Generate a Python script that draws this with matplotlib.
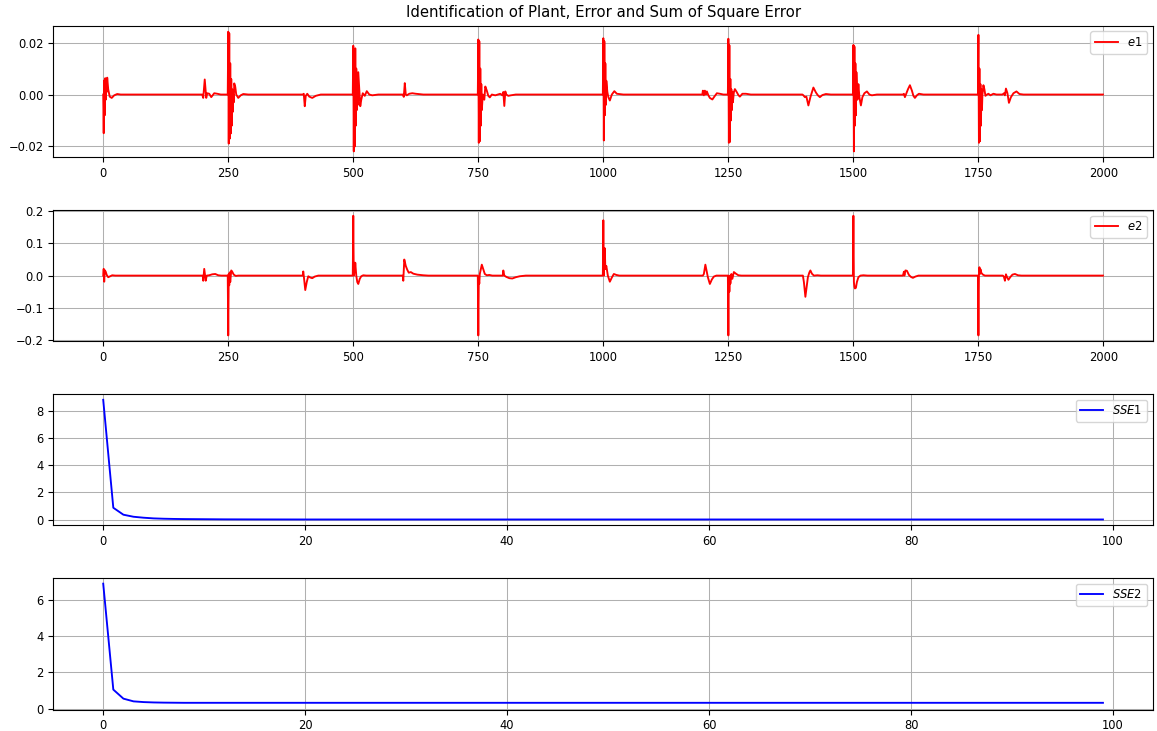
import matplotlib
matplotlib.use("Agg")
import matplotlib.pyplot as plt

plt.rcParams['font.size'] = 8.3
plt.rcParams['axes.titlesize'] = 10.7
plt.rcParams['lines.linewidth'] = 1.35
plt.rcParams['grid.linewidth'] = 0.75

# key points (sample index, error value)
e1_t = [0, 1, 2, 3, 4, 5, 6, 7, 8, 10, 13, 17, 22, 28, 35,
        198, 200, 203, 206, 208, 212, 216, 222, 228, 235,
        249, 250, 251, 252, 253, 254, 255, 256, 257, 258, 259, 260, 261, 262, 264, 266, 270, 275, 280, 290,
        399, 401, 403, 405, 408, 412, 418, 425, 435,
        499, 500, 501, 502, 503, 504, 505, 506, 507, 508, 509, 510, 512, 514, 516, 519, 523, 527, 532, 538, 550,
        599, 601, 603, 605, 607, 612, 618, 625, 640,
        749, 750, 751, 752, 753, 754, 755, 756, 757, 759, 762, 764, 767, 770, 773, 777, 784, 794,
        798, 800, 802, 804, 806, 810, 815, 825,
        999, 1000, 1001, 1002, 1003, 1004, 1005, 1006, 1008, 1010, 1013, 1017, 1022, 1027, 1040,
        1198, 1199, 1201, 1203, 1205, 1207, 1210, 1213, 1218, 1222, 1227, 1233, 1240,
        1249, 1250, 1251, 1252, 1253, 1254, 1255, 1256, 1257, 1258, 1259, 1261, 1263, 1266, 1270, 1273, 1278, 1285, 1295,
        1398, 1400, 1403, 1406, 1410, 1414, 1420, 1425, 1429, 1433, 1438, 1445, 1455,
        1499, 1500, 1501, 1502, 1503, 1504, 1505, 1506, 1508, 1510, 1512, 1515, 1518, 1522, 1527, 1532, 1537, 1547,
        1599, 1601, 1603, 1605, 1609, 1613, 1617, 1620, 1623, 1627, 1631, 1640,
        1749, 1750, 1751, 1752, 1753, 1754, 1755, 1756, 1757, 1758, 1760, 1762, 1764, 1767, 1770, 1774, 1780, 1786,
        1798, 1801, 1803, 1805, 1808, 1811, 1815, 1820, 1826, 1832, 1840,
        1999]
e1_v = [0.0, -0.0149, 0.0055, -0.008, 0.0063, -0.002, 0.0058, 0.001, 0.0065, 0.002, -0.0008, -0.0013, -0.0003, 0.0002, 0.0,
        0.0, -0.0013, 0.0058, -0.0013, 0.0005, 0.0003, -0.001, 0.0005, 0.0003, 0.0,
        0.0, 0.0242, -0.0189, 0.0236, -0.017, 0.012, -0.015, 0.006, -0.012, 0.002, -0.0067, 0.0, -0.003, 0.0043, 0.003, 0.0, -0.0013, -0.0003, 0.0002, 0.0,
        0.0, 0.0003, -0.0045, -0.0005, 0.0003, -0.0008, -0.0013, -0.0005, 0.0,
        0.0, 0.0188, -0.0219, 0.0175, -0.02, 0.0178, -0.012, 0.01, -0.006, 0.004, -0.004, 0.0086, 0.002, -0.0045, -0.002, 0.0005, -0.0005, 0.0013, 0.0, -0.0003, 0.0,
        0.0, -0.0009, 0.0044, 0.0, -0.0003, 0.0003, 0.0005, 0.0003, 0.0,
        0.0, 0.0212, -0.0186, 0.0205, -0.018, 0.01, -0.012, 0.004, -0.006, 0.0, -0.002, 0.0031, 0.0015, -0.0005, -0.0011, 0.0, -0.0003, 0.0003,
        -0.0003, 0.001, -0.0044, 0.0012, 0.0, -0.0005, -0.0003, 0.0,
        0.0, 0.0217, -0.0177, 0.0205, -0.008, 0.012, -0.004, 0.0053, 0.001, -0.001, -0.0023, 0.0, 0.0013, 0.0003, 0.0,
        0.0, 0.0015, -0.0003, 0.0015, 0.0, 0.0012, -0.0003, -0.0013, -0.0019, -0.0008, 0.0005, 0.0003, 0.0,
        0.0, 0.0215, -0.0186, 0.019, -0.0183, 0.006, -0.01, 0.002, -0.006, 0.001, -0.003, 0.0008, 0.0021, 0.0012, -0.0002, -0.0008, 0.0003, 0.0003, 0.0,
        0.0, -0.0003, -0.001, -0.0008, -0.0042, -0.001, 0.0027, 0.0008, -0.0003, -0.001, -0.0002, 0.0002, 0.0,
        0.0, 0.0191, -0.0219, 0.0185, -0.012, 0.012, -0.008, 0.0086, -0.002, 0.004, -0.001, -0.0042, -0.001, 0.0005, 0.0012, 0.0, -0.0003, 0.0,
        0.0, 0.0003, -0.001, 0.0, 0.002, 0.0036, 0.0015, -0.0005, -0.0013, -0.0003, 0.0003, 0.0,
        0.0, 0.023, -0.0186, 0.01, -0.018, 0.004, -0.012, 0.002, -0.006, 0.0, 0.0036, 0.002, -0.0005, 0.0, 0.0003, -0.0003, 0.0003, 0.0,
        0.0, 0.0005, -0.0003, 0.0023, 0.0005, -0.0032, -0.001, 0.0005, 0.0012, 0.0002, 0.0,
        0.0]

e2_t = [0, 1, 2, 3, 5, 7, 10, 14, 18, 24,
        199, 200, 202, 205, 207, 212, 218, 224, 230, 236,
        249, 250, 251, 252, 253, 254, 256, 258, 261, 265, 270,
        399, 400, 401, 404, 407, 410, 414, 418, 423, 430,
        499, 500, 501, 502, 503, 504, 506, 508, 510, 513, 516, 520, 526,
        599, 600, 602, 605, 608, 611, 615, 620, 628, 640, 650,
        749, 750, 751, 752, 753, 755, 757, 760, 763, 767, 772, 778,
        799, 800, 802, 806, 812, 818, 825, 833, 845,
        999, 1000, 1001, 1002, 1003, 1004, 1006, 1009, 1013, 1017, 1021, 1026, 1032,
        1199, 1201, 1204, 1207, 1209, 1213, 1217, 1221, 1226, 1232,
        1249, 1250, 1251, 1252, 1253, 1254, 1256, 1258, 1261, 1265, 1270, 1276,
        1399, 1401, 1404, 1407, 1409, 1412, 1414, 1417, 1421, 1428, 1435,
        1499, 1500, 1501, 1502, 1503, 1505, 1507, 1510, 1514, 1520, 1528,
        1599, 1601, 1602, 1604, 1607, 1611, 1615, 1619, 1624, 1630,
        1749, 1750, 1751, 1752, 1753, 1754, 1756, 1759, 1763, 1770,
        1799, 1801, 1803, 1805, 1807, 1810, 1814, 1818, 1823, 1829, 1836,
        1999]
e2_v = [0.0, 0.021, -0.019, 0.017, 0.012, 0.002, -0.005, -0.002, 0.001, 0.0,
        0.0, -0.016, 0.021, -0.016, 0.0, 0.001, 0.004, 0.005, 0.001, 0.0,
        0.0, -0.186, 0.005, -0.03, 0.01, -0.02, 0.016, 0.012, 0.003, -0.001, 0.0,
        0.0, 0.013, 0.0, -0.045, -0.02, -0.002, -0.006, -0.008, -0.003, 0.0,
        0.0, 0.186, 0.0, 0.04, 0.01, 0.04, 0.0, -0.02, -0.026, -0.01, -0.002, 0.001, 0.0,
        0.0, -0.016, 0.05, 0.03, 0.018, 0.009, 0.011, 0.006, 0.003, 0.001, 0.0,
        0.0, -0.186, -0.01, -0.025, 0.005, 0.02, 0.034, 0.02, 0.005, 0.001, 0.002, 0.0,
        0.0, 0.016, 0.0, -0.004, -0.008, -0.009, -0.005, -0.002, 0.0,
        0.0, 0.172, 0.0, 0.06, 0.085, 0.02, 0.03, 0.0, -0.019, -0.006, 0.005, 0.002, 0.0,
        0.0, 0.005, 0.034, 0.01, -0.005, -0.026, -0.012, -0.003, 0.0, 0.0,
        0.0, -0.186, 0.0, -0.05, -0.005, -0.025, 0.005, -0.01, 0.011, 0.006, 0.001, 0.0,
        0.0, -0.02, -0.066, -0.03, -0.005, 0.01, 0.016, 0.006, 0.0, 0.001, 0.0,
        0.0, 0.186, -0.02, -0.035, -0.04, -0.038, -0.02, -0.005, 0.0, 0.001, 0.0,
        0.0, 0.012, 0.0, 0.016, 0.015, 0.002, -0.004, -0.007, -0.003, 0.0,
        0.0, -0.186, 0.0, 0.026, 0.005, 0.02, 0.008, 0.003, 0.0, 0.0,
        0.0, -0.004, -0.016, 0.004, -0.004, -0.013, -0.004, 0.003, 0.005, 0.001, 0.0,
        0.0]

# sum of squared error per epoch
sse1_epoch = [0, 1, 2, 3, 4, 5, 6, 7, 8, 10, 12, 15, 20, 99]
sse1_v = [8.8, 0.88, 0.37, 0.22, 0.15, 0.10, 0.075, 0.06, 0.05, 0.04, 0.03, 0.025, 0.02, 0.02]
sse2_epoch = [0, 1, 2, 3, 4, 5, 6, 8, 10, 15, 99]
sse2_v = [6.9, 1.05, 0.55, 0.40, 0.36, 0.34, 0.33, 0.32, 0.32, 0.32, 0.32]

fig, axes = plt.subplots(4, 1, figsize=(11.57, 7.31), dpi=100)
fig.subplots_adjust(left=0.046, right=0.9965, top=0.9648, bottom=0.0294, hspace=0.398)

axes[0].plot(e1_t, e1_v, color='red', label='$e1$')
axes[0].set_title('Identification of Plant, Error and Sum of Square Error')
axes[1].plot(e2_t, e2_v, color='red', label='$e2$')
axes[2].plot(sse1_epoch, sse1_v, color='blue', label='$SSE1$')
axes[3].plot(sse2_epoch, sse2_v, color='blue', label='$SSE2$')

for ax in axes[:2]:
    ax.set_xticks(range(0, 2001, 250))
axes[0].set_yticks([-0.02, 0.0, 0.02])
axes[1].set_yticks([-0.2, -0.1, 0.0, 0.1, 0.2])
axes[2].set_yticks([0, 2, 4, 6, 8])
axes[3].set_yticks([0, 2, 4, 6])
axes[3].set_ylim(-0.05, 7.22)

for ax in axes:
    ax.grid(True)
    ax.legend(loc='upper right')

plt.savefig('out.png')
